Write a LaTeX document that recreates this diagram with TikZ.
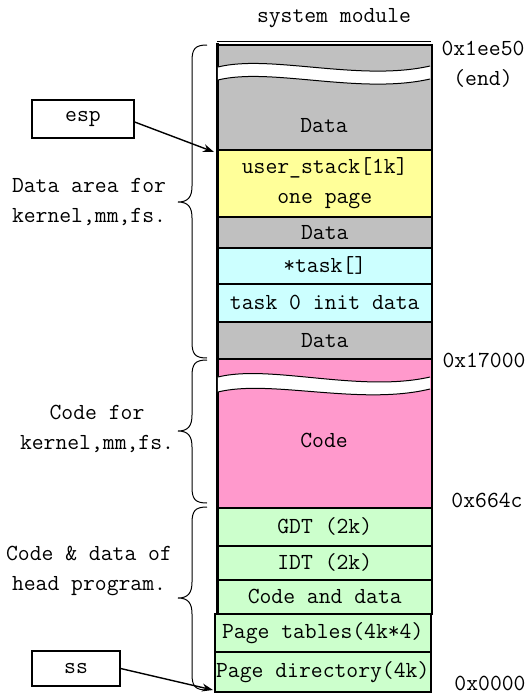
\documentclass[tikz,border=0pt]{standalone}
\usetikzlibrary{arrows.meta}
\definecolor{datagray}{HTML}{C0C0C0}
\definecolor{stackyellow}{HTML}{FFFF99}
\definecolor{taskcyan}{HTML}{CCFFFF}
\definecolor{codepink}{HTML}{FF99CC}
\definecolor{headgreen}{HTML}{CCFFCC}
% curly brace opening to the right: top y, bottom y, tip y
\newcommand\membrace[3]{%
  \draw[bracestyle] (207,#1) .. controls (195,#1) and (192,{#1+4}) .. (192,{#1+16})
    -- (192,{#3-16}) .. controls (192,{#3-5}) and (188,#3) .. (178,#3)
    .. controls (188,#3) and (192,{#3+5}) .. (192,{#3+16})
    -- (192,{#2-16}) .. controls (192,{#2-4}) and (195,#2) .. (207,#2);}
\begin{document}
\begin{tikzpicture}[x=1pt,y=-1pt,
  font=\ttfamily\fontsize{23}{30}\selectfont,
  seg/.style={draw, line width=1.5pt, anchor=north west, inner sep=0pt,
    minimum width=214pt, align=center},
  tag/.style={inner sep=0pt, align=center},
  regbox/.style={draw, line width=1.3pt, inner sep=0pt},
  bracestyle/.style={line width=1pt},
  pointer/.style={line width=1.4pt, -{Stealth[length=11pt,width=8pt]}},
  wave/.style={line width=1pt}]
\useasboundingbox (0,0) rectangle (530,694);

% title
\node[tag] (title) at (334,18) {system module};

% memory segments, top to bottom
\node[seg, fill=datagray, minimum height=105pt] (topdata) at (217,44) {};
\node[seg, fill=stackyellow, minimum height=67pt] (stack) at (217,149) {user\_stack[1k]\\one page};
\node[seg, fill=datagray, minimum height=31pt] (data2) at (217,216) {Data};
\node[seg, fill=taskcyan, minimum height=36pt] (taskptr) at (217,247) {*task[]};
\node[seg, fill=taskcyan, minimum height=38pt] (task0) at (217,283) {task 0 init data};
\node[seg, fill=datagray, minimum height=37pt] (data3) at (217,321) {Data};
\node[seg, fill=codepink, minimum height=149pt] (code) at (217,358) {};
\node[seg, fill=headgreen, minimum height=38pt] (gdt) at (217,507) {GDT (2k)};
\node[seg, fill=headgreen, minimum height=34pt] (idt) at (217,545) {IDT (2k)};
\node[seg, fill=headgreen, minimum height=34pt] (codedata) at (217,579) {Code and data};
\node[seg, fill=headgreen, minimum height=38pt, minimum width=216pt] (pagetab) at (214,613) {Page tables(4k*4)};
\node[seg, fill=headgreen, minimum height=40pt, minimum width=216pt] (pagedir) at (214,651) {Page directory(4k)};

% heavier left edge and doubled top edge
\draw[line width=3pt] (217,43) -- (217,613);
\draw[line width=1pt] (217,41.5) -- (431,41.5);

% breaks in the long segments
\fill[white] (217.8,67) .. controls (270,54) and (360,82) .. (430.2,66)
  -- (430.2,79) .. controls (360,95) and (270,67) .. (217.8,80) -- cycle;
\draw[wave] (218,67) .. controls (270,54) and (360,82) .. (430,66);
\draw[wave] (218,80) .. controls (270,67) and (360,95) .. (430,79);
\fill[white] (217.8,377) .. controls (270,364) and (360,393) .. (430.2,377)
  -- (430.2,389) .. controls (360,406) and (270,379) .. (217.8,392) -- cycle;
\draw[wave] (218,377) .. controls (270,364) and (360,393) .. (430,377);
\draw[wave] (218,392) .. controls (270,379) and (360,406) .. (430,389);

\node[tag] (topdatatext) at (324,126) {Data};
\node[tag] (codetext) at (324,440) {Code};

% addresses
\node[tag] (addrend) at (483,64) {0x1ee50\\(end)};
\node[tag] (addrkern) at (484,360) {0x17000};
\node[tag] (addrhead) at (487,500) {0x664c};
\node[tag] (addrzero) at (490,683) {0x0000};

% braces and region descriptions
\membrace{45}{358}{202}
\membrace{360}{503}{431}
\membrace{507}{690}{598}
\node[tag] (kdata) at (89,202) {Data area for\\kernel,mm,fs.};
\node[tag] (kcode) at (97,429) {Code for\\kernel,mm,fs.};
\node[tag] (hcode) at (89,571) {Code \& data of\\head program.};

% registers
\node[regbox, minimum width=102pt, minimum height=38pt] (esp) at (83,119) {esp};
\node[regbox, minimum width=88pt, minimum height=35pt] (ss) at (76,668.5) {ss};
\coordinate (stacktop) at (214,152);
\coordinate (stackbase) at (213,690);
\draw[pointer] ([yshift=-3pt]esp.east) -- (stacktop);
\draw[pointer] (ss.east) -- (stackbase);
\end{tikzpicture}
\end{document}
